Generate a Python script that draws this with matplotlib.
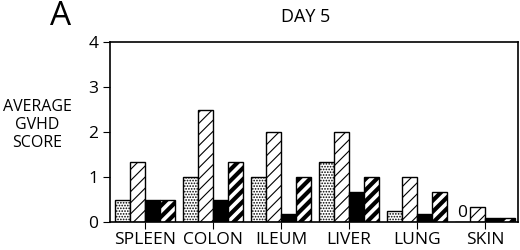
import numpy as np
import matplotlib.pyplot as plt

organs = ['SPLEEN', 'COLON', 'ILEUM', 'LIVER', 'LUNG', 'SKIN']
group1 = [0.5, 1.0, 1.0, 1.33, 0.25, 0.0]
group2 = [1.33, 2.5, 2.0, 2.0, 1.0, 0.33]
group3 = [0.5, 0.5, 0.17, 0.67, 0.17, 0.08]
group4 = [0.5, 1.33, 1.0, 1.0, 0.67, 0.08]
yticks = [0, 1, 2, 3, 4]


def main():
    plt.rcParams['font.family'] = ['Open Sans', 'DejaVu Sans']
    plt.rcParams['hatch.linewidth'] = 0.8
    fig = plt.figure(figsize=(5.2, 2.5), dpi=100)
    ax = fig.add_axes([0.2115, 0.112, 0.7845, 0.72])

    x = np.arange(len(organs))
    w = 0.22
    ax.bar(x - 1.5 * w, group1, w, color='white', edgecolor='black',
           hatch='......', linewidth=1)
    ax.bar(x - 0.5 * w, group2, w, color='white', edgecolor='black',
           hatch='///', linewidth=1)
    ax.bar(x + 0.5 * w, group3, w, color='black', edgecolor='black',
           linewidth=1)
    b4 = ax.bar(x + 1.5 * w, group4, w, color='white', edgecolor='black',
                hatch='///', linewidth=1)
    for p in b4:
        if hasattr(p, 'set_hatch_linewidth'):
            p.set_hatch_linewidth(3)

    # zero value marker for skin
    ax.text(x[5] - 1.5 * w, 0.02, '0', ha='center', va='bottom', fontsize=12.5)

    ax.set_xlim(-0.515, 5.485)
    ax.set_ylim(0, 4)
    ax.set_yticks(yticks)
    ax.set_xticks(x)
    ax.set_xticklabels(organs, fontsize=12.5)
    ax.tick_params(axis='y', labelsize=12.5, direction='out', length=5)
    ax.tick_params(axis='x', direction='out', length=5, pad=2)
    for s in ax.spines.values():
        s.set_linewidth(1.2)

    fig.text(0.587, 0.93, 'DAY 5', ha='center', va='center', fontsize=13)
    fig.text(0.117, 0.935, 'A', ha='center', va='center', fontsize=24)
    fig.text(0.072, 0.50, 'AVERAGE\nGVHD\nSCORE', ha='center', va='center',
             fontsize=11.5, linespacing=1.15)

    fig.savefig('out.png', dpi=100)


if __name__ == '__main__':
    main()
